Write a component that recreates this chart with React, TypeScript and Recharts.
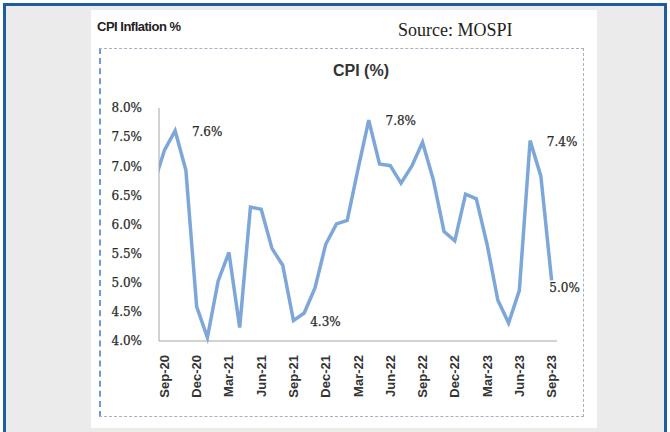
import React from 'react';
import { LineChart, Line, XAxis, YAxis, LabelList } from 'recharts';

// monthly CPI inflation, Aug-20 .. Sep-23 (first month sits behind the y axis)
const months = [
  'Aug-20', 'Sep-20', 'Oct-20', 'Nov-20', 'Dec-20',
  'Jan-21', 'Feb-21', 'Mar-21', 'Apr-21', 'May-21', 'Jun-21',
  'Jul-21', 'Aug-21', 'Sep-21', 'Oct-21', 'Nov-21', 'Dec-21',
  'Jan-22', 'Feb-22', 'Mar-22', 'Apr-22', 'May-22', 'Jun-22',
  'Jul-22', 'Aug-22', 'Sep-22', 'Oct-22', 'Nov-22', 'Dec-22',
  'Jan-23', 'Feb-23', 'Mar-23', 'Apr-23', 'May-23', 'Jun-23',
  'Jul-23', 'Aug-23', 'Sep-23',
];

const cpi = [
  6.69, 7.27, 7.61, 6.93, 4.59,
  4.06, 5.03, 5.52, 4.23, 6.30, 6.26,
  5.59, 5.30, 4.35, 4.48, 4.91, 5.66,
  6.01, 6.07, 6.95, 7.79, 7.04, 7.01,
  6.71, 7.00, 7.41, 6.77, 5.88, 5.72,
  6.52, 6.44, 5.66, 4.70, 4.31, 4.87,
  7.44, 6.83, 5.04,
];

const yTicks = [4, 4.5, 5, 5.5, 6, 6.5, 7, 7.5, 8];
const labelledMonths = ['Oct-20', 'Sep-21', 'Apr-22', 'Jul-23', 'Sep-23'];

const data = months.map((month, idx) => ({ idx, month, cpi: cpi[idx] }));

// every third month gets a label; tick marks sit on the category boundary before it
const labelTicks = data
  .filter((d) => d.idx > 0 && /^(Sep|Dec|Mar|Jun)/.test(d.month))
  .map((d) => d.idx);
const markTicks = labelTicks.map((t) => t - 0.5);

const serif = '"DejaVu Serif", serif';
const sans = '"Liberation Sans", Arial, sans-serif';
const lineColor = '#7ea7d9';

const MonthTick = (props: any) => {
  const { x, y, payload } = props;
  return (
    <text
      x={x}
      y={y}
      transform={`rotate(-90, ${x}, ${y})`}
      textAnchor="end"
      dominantBaseline="central"
      fontFamily={sans}
      fontWeight="bold"
      fontSize={13}
      fill="#333"
    >
      {months[payload.value]}
    </text>
  );
};

const PeakLabel = (props: any) => {
  const { x, y, index, value } = props;
  const month = months[index];
  if (!labelledMonths.includes(month)) return null;
  const last = index === months.length - 1;
  return (
    <text
      x={x + (last ? 13 : 32)}
      y={y + (last ? 8 : 1)}
      textAnchor="middle"
      dominantBaseline="central"
      fontFamily={serif}
      fontSize={12}
      fill="#2a2a2a"
      stroke="#2a2a2a"
      strokeWidth={0.25}
    >
      {Number(value).toFixed(1)}%
    </text>
  );
};

export default function App() {
  return (
    <div style={{ position: 'absolute', left: 0, top: 0, width: 670, height: 432, overflow: 'hidden', background: '#fff' }}>
      <div
        style={{
          position: 'absolute', left: 3, top: 3, width: 664, height: 450,
          boxSizing: 'border-box', border: '3px solid #1f5c9c', background: '#ebebeb',
        }}
      />
      <div style={{ position: 'absolute', left: 91, top: 10, width: 506, height: 418, background: '#fff' }} />
      <div
        style={{
          position: 'absolute', left: 97, top: 19, fontFamily: sans, fontWeight: 'bold',
          fontSize: 13, letterSpacing: -0.5, color: '#222',
        }}
      >
        CPI Inflation %
      </div>
      <div
        style={{
          position: 'absolute', left: 398, top: 19, fontFamily: '"Liberation Serif", serif',
          fontSize: 18, color: '#222', lineHeight: '22px',
        }}
      >
        Source: MOSPI
      </div>
      <div
        style={{
          position: 'absolute', left: 99, top: 48, width: 485, height: 369, boxSizing: 'border-box',
          border: '1px dashed #a3b1c6', borderLeft: '2px dashed #6f9ad6',
        }}
      />
      <div
        style={{
          position: 'absolute', left: 261, width: 200, top: 61, textAlign: 'center',
          fontFamily: sans, fontWeight: 'bold', fontSize: 16, color: '#333', lineHeight: '20px',
        }}
      >
        CPI (%)
      </div>
      <div style={{ position: 'absolute', left: 0, top: 0 }}>
        <LineChart
          width={670}
          height={432}
          data={data}
          margin={{ top: 108, right: 113, bottom: 17, left: 0 }}
        >
          <XAxis
            xAxisId="b"
            dataKey="idx"
            type="number"
            domain={[0.5, 37.5]}
            allowDataOverflow
            ticks={labelTicks}
            interval={0}
            tick={<MonthTick />}
            tickSize={0}
            tickMargin={0}
            height={60}
            axisLine={false}
            tickLine={false}
          />
          <XAxis
            xAxisId="a"
            dataKey="idx"
            type="number"
            domain={[0.5, 37.5]}
            allowDataOverflow
            ticks={markTicks}
            tick={false}
            tickSize={5}
            height={14}
            axisLine={{ stroke: '#a6a6a6' }}
            tickLine={{ stroke: '#a6a6a6' }}
          />
          <YAxis
            domain={[4, 8]}
            ticks={yTicks}
            interval={0}
            width={159}
            tickFormatter={(v: number) => `${v.toFixed(1)}%`}
            tick={{ fontFamily: serif, fontSize: 12, fill: '#2a2a2a', stroke: '#2a2a2a', strokeWidth: 0.25 }}
            tickSize={0}
            tickMargin={17}
            axisLine={{ stroke: '#a6a6a6' }}
            tickLine={false}
          />
          <Line
            xAxisId="b"
            type="linear"
            dataKey="cpi"
            stroke={lineColor}
            strokeWidth={3.5}
            dot={false}
            isAnimationActive={false}
          >
            <LabelList dataKey="cpi" content={<PeakLabel />} />
          </Line>
        </LineChart>
      </div>
    </div>
  );
}
